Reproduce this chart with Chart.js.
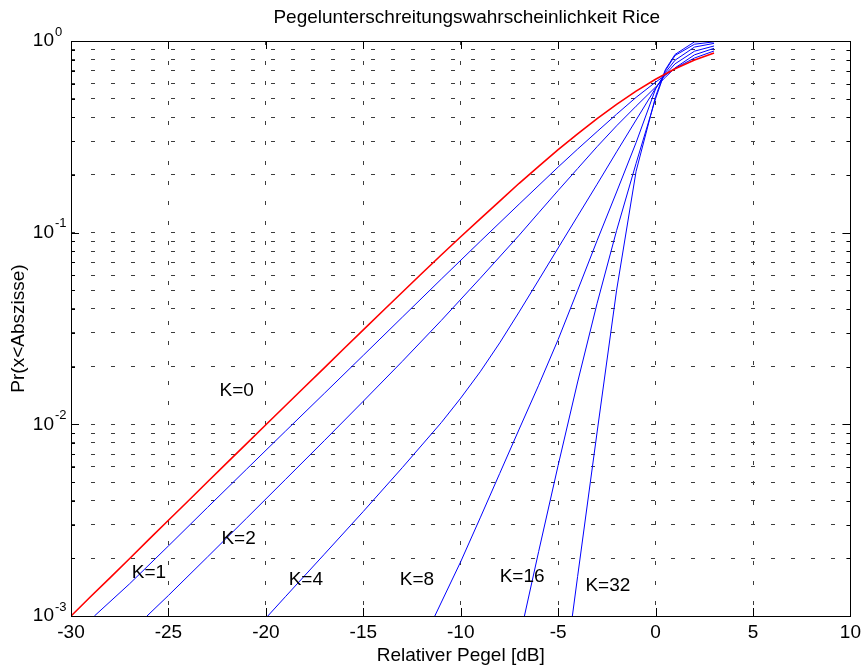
<!DOCTYPE html>
<html>
<head>
<meta charset="utf-8">
<script src="https://cdn.jsdelivr.net/npm/chart.js@4.4.1/dist/chart.umd.min.js"></script>
<style>
  html, body { margin: 0; padding: 0; background: #fff; }
  canvas { display: block; }
</style>
</head>
<body>
<canvas id="riceChart" width="866" height="671"></canvas>
<script>
// Relativer Pegel [dB] and Pr(x<Abszisse)
const levelK0 = [-30, -29, -28, -27, -26, -25, -24, -23, -22, -21, -20, -19, -18, -17, -16, -15, -14, -13, -12, -11, -10, -9, -8, -7, -6, -5, -4, -3, -2, -1, 0, 1, 2, 3];
const probK0 = [0.00100, 0.00126, 0.00158, 0.00199, 0.00251, 0.00316, 0.00397, 0.00500, 0.00629, 0.00791, 0.00995, 0.0125, 0.0157, 0.0197, 0.0248, 0.0311, 0.0390, 0.0489, 0.0612, 0.0765, 0.0952, 0.118, 0.146, 0.181, 0.222, 0.271, 0.328, 0.394, 0.467, 0.548, 0.632, 0.716, 0.795, 0.865];

const levelK1 = [-28.8, -27, -25, -23, -21, -19, -17, -15, -13, -11, -9, -7, -5, -4, -3, -2, -1, 0, 1, 2, 3];
const probK1 = [0.00100, 0.00147, 0.00232, 0.00368, 0.00582, 0.00920, 0.0145, 0.0229, 0.0362, 0.0572, 0.0900, 0.141, 0.220, 0.273, 0.337, 0.415, 0.508, 0.610, 0.721, 0.815, 0.887];

const levelK2 = [-26.1, -25, -23, -21, -19, -17, -15, -13, -11, -9, -7, -6, -5, -4, -3, -2, -1, 0, 0.5, 1, 2, 3];
const probK2 = [0.00100, 0.00128, 0.00203, 0.00323, 0.00515, 0.00822, 0.0132, 0.0213, 0.0348, 0.0578, 0.097, 0.127, 0.166, 0.216, 0.281, 0.361, 0.457, 0.575, 0.646, 0.724, 0.847, 0.916];

const levelK4 = [-19.9, -19, -17, -15, -13, -11, -10, -9, -8, -7, -6, -5, -4, -3, -2, -1, 0, 0.5, 1, 2, 3];
const probK4 = [0.00100, 0.00126, 0.00210, 0.00351, 0.00594, 0.0102, 0.0137, 0.0188, 0.0266, 0.0386, 0.0566, 0.0832, 0.122, 0.179, 0.264, 0.387, 0.567, 0.668, 0.760, 0.885, 0.942];

const levelK8 = [-11.33, -10, -9, -8, -7, -6, -5, -4, -3, -2, -1, 0, 0.5, 1, 2, 3];
const probK8 = [0.00100, 0.00192, 0.00325, 0.00554, 0.00944, 0.0160, 0.0277, 0.050, 0.091, 0.163, 0.295, 0.562, 0.684, 0.794, 0.930, 0.972];

const levelK16 = [-6.73, -6, -5, -4, -3, -2, -1, 0, 0.5, 1, 2, 3];
const probK16 = [0.00100, 0.00217, 0.00611, 0.01663, 0.0428, 0.1026, 0.230, 0.500, 0.700, 0.840, 0.962, 0.990];

const levelK32 = [-4.27, -4, -3, -2, -1, 0, 0.5, 1, 2, 3];
const probK32 = [0.00100, 0.00161, 0.00912, 0.0501, 0.209, 0.513, 0.708, 0.851, 0.990, 0.9995];

// curve annotations (text, dB, probability)
const curveNames = ['K=0', 'K=1', 'K=2', 'K=4', 'K=8', 'K=16', 'K=32'];
const nameLevel = [-21.5, -26.0, -21.4, -17.95, -12.25, -6.85, -2.45];
const nameProb = [0.0149, 0.00169, 0.00252, 0.00155, 0.00155, 0.00160, 0.00143];

const xTickValues = [-30, -25, -20, -15, -10, -5, 0, 5, 10];
const yDecades = [0.001, 0.01, 0.1, 1];
const yExponents = ['-3', '-2', '-1', '0'];

const FONT = "'Liberation Sans', Arial, Helvetica, sans-serif";
const GRID = '#3c3c3c';

// grid at 1..9 x 10^k like MATLAB log axes
const yGrid = [];
yDecades.slice(0, 3).forEach(d => { for (let m = 1; m <= 9; m++) yGrid.push(+(d * m).toPrecision(3)); });
yGrid.push(1);

const pts = (xs, ys) => xs.map((x, i) => ({ x: x, y: ys[i] }));

const line = (xs, ys, color, width) => ({
  data: pts(xs, ys),
  borderColor: color,
  borderWidth: width,
  pointRadius: 0,
  fill: false,
  tension: 0
});

const matlabAxes = {
  id: 'matlabAxes',
  afterDraw(chart) {
    const { ctx, chartArea: a, scales: { x, y } } = chart;
    ctx.save();
    ctx.strokeStyle = '#000';
    ctx.lineWidth = 1;
    ctx.strokeRect(Math.round(a.left) + 0.5, Math.round(a.top) + 0.5,
                   Math.round(a.right - a.left), Math.round(a.bottom - a.top));

    // inward ticks
    ctx.beginPath();
    xTickValues.forEach(v => {
      const px = Math.round(x.getPixelForValue(v)) + 0.5;
      ctx.moveTo(px, a.bottom); ctx.lineTo(px, a.bottom - 8);
      ctx.moveTo(px, a.top); ctx.lineTo(px, a.top + 8);
    });
    yGrid.forEach(v => {
      const py = Math.round(y.getPixelForValue(v)) + 0.5;
      const len = yDecades.includes(v) ? 8 : 4;
      ctx.moveTo(a.left, py); ctx.lineTo(a.left + len, py);
      ctx.moveTo(a.right, py); ctx.lineTo(a.right - len, py);
    });
    ctx.stroke();

    // y tick labels 10^n
    ctx.fillStyle = '#000';
    ctx.textBaseline = 'middle';
    yDecades.forEach((v, i) => {
      const py = y.getPixelForValue(v);
      ctx.font = '19px ' + FONT;
      ctx.textAlign = 'right';
      ctx.fillText('10', 54, py);
      ctx.font = '13px ' + FONT;
      ctx.textAlign = 'left';
      ctx.fillText(yExponents[i], 55, py - 9);
    });

    // curve names
    ctx.font = '19px ' + FONT;
    ctx.textAlign = 'center';
    curveNames.forEach((t, i) => {
      ctx.fillText(t, x.getPixelForValue(nameLevel[i]), y.getPixelForValue(nameProb[i]));
    });

    // title
    ctx.fillText('Pegelunterschreitungswahrscheinlichkeit Rice', (a.left + a.right) / 2 + 6, 18);
    ctx.restore();
  }
};

new Chart(document.getElementById('riceChart'), {
  type: 'line',
  data: {
    datasets: [
      line(levelK0, probK0, '#ff0000', 1.6),
      line(levelK1, probK1, '#0000ff', 1),
      line(levelK2, probK2, '#0000ff', 1),
      line(levelK4, probK4, '#0000ff', 1),
      line(levelK8, probK8, '#0000ff', 1),
      line(levelK16, probK16, '#0000ff', 1),
      line(levelK32, probK32, '#0000ff', 1)
    ]
  },
  options: {
    responsive: false,
    animation: false,
    devicePixelRatio: 1,
    layout: { padding: { top: 41, right: 13, bottom: 0, left: 0 } },
    plugins: {
      legend: { display: false },
      tooltip: { enabled: false },
      title: { display: false }
    },
    scales: {
      x: {
        type: 'linear',
        min: -30,
        max: 10,
        afterBuildTicks: s => { s.ticks = xTickValues.map(v => ({ value: v })); },
        ticks: { color: '#000', font: { family: FONT, size: 19 }, padding: 5, maxRotation: 0 },
        grid: { color: GRID, lineWidth: 1, drawTicks: false },
        border: { display: false, dash: [4, 16] },
        title: {
          display: true, text: 'Relativer Pegel [dB]', color: '#000',
          font: { family: FONT, size: 19 }, padding: { top: 0, bottom: 4 }
        },
        afterFit: s => { s.height = 55; }
      },
      y: {
        type: 'logarithmic',
        min: 0.001,
        max: 1,
        afterBuildTicks: s => { s.ticks = yGrid.map(v => ({ value: v })); },
        ticks: { display: false },
        grid: { color: GRID, lineWidth: 1, drawTicks: false },
        border: { display: false, dash: [4, 16] },
        title: {
          display: true, text: 'Pr(x<Abszisse)', color: '#000',
          font: { family: FONT, size: 19 }, padding: { top: 7, bottom: 0 }
        },
        afterFit: s => { s.width = 71; }
      }
    }
  },
  plugins: [matlabAxes]
});
</script>
</body>
</html>
